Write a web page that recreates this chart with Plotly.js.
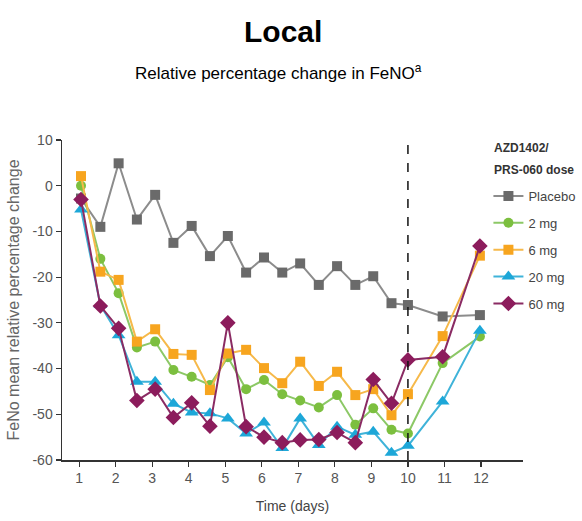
<!DOCTYPE html>
<html>
<head>
<meta charset="utf-8">
<script src="https://cdn.plot.ly/plotly-3.0.1.min.js"></script>
<style>html,body{margin:0;padding:0;background:#fff;}#chart{width:582px;height:521px;}</style>
</head>
<body>
<div id="chart"></div>
<script>
// Time points (days)
const days = [1.05,1.58,2.08,2.58,3.08,3.58,4.08,4.58,5.07,5.57,6.06,6.56,7.05,7.56,8.06,8.56,9.05,9.55,10.0,10.95,11.97];

const placebo = [-2.8,-9.0,4.9,-7.4,-2.0,-12.5,-8.8,-15.4,-11.0,-19.0,-15.7,-19.0,-17.0,-21.7,-17.6,-21.7,-19.8,-25.7,-26.1,-28.6,-28.3];
const dose2mg = [0.0,-16.0,-23.5,-35.4,-34.1,-40.3,-41.8,-43.6,-37.5,-44.5,-42.5,-45.6,-47.0,-48.5,-45.8,-52.3,-48.7,-53.4,-54.2,-38.8,-33.0];
const dose6mg = [2.1,-18.8,-20.6,-34.1,-31.4,-36.8,-37.0,-44.7,-36.7,-35.9,-39.9,-43.2,-38.5,-43.8,-40.7,-45.8,-44.5,-50.2,-45.6,-32.9,-15.3];
const dose20mg = [-5.2,-26.1,-32.7,-42.9,-42.9,-47.7,-49.6,-49.8,-50.9,-54.2,-51.8,-57.4,-50.9,-56.7,-52.7,-54.5,-53.8,-58.4,-56.9,-47.2,-31.7];
const dose60mg = [-3.0,-26.3,-31.2,-47.0,-44.5,-50.7,-47.5,-52.6,-30.0,-52.7,-55.0,-56.2,-55.6,-55.5,-54.0,-56.2,-42.4,-47.6,-38.1,-37.4,-13.2];

const seriesNames = ['Placebo','2 mg','6 mg','20 mg','60 mg'];
const legendTitleLines = ['AZD1402/','PRS-060 dose'];
const xTicks = [1,2,3,4,5,6,7,8,9,10,11,12];
const yTicks = [10,0,-10,-20,-30,-40,-50,-60];
const dosingEndDay = 10;

const FONT = 'Liberation Sans, Arial, sans-serif';

const styles = [
  {line:'#8c8c8c', marker:'#6a6a6a', symbol:'square', size:10},
  {line:'#8cc866', marker:'#7cbf3f', symbol:'circle', size:10},
  {line:'#f6b94a', marker:'#f7a51f', symbol:'square', size:10},
  {line:'#3fb3d9', marker:'#1da7d8', symbol:'triangle-up', size:12},
  {line:'#8a2b63', marker:'#8c1c5c', symbol:'diamond', size:12}
];
const values = [placebo, dose2mg, dose6mg, dose20mg, dose60mg];

const traces = values.map((v,i)=>({
  x: days, y: v, name: seriesNames[i], type:'scatter', mode:'lines+markers',
  legendgroup: 'g'+i,
  line:{color:styles[i].line, width:2},
  marker:{color:styles[i].marker, symbol:styles[i].symbol, size:styles[i].size}
}));

const layout = {
  width:582, height:521,
  margin:{l:62, r:59, t:140, b:61, autoexpand:false},
  paper_bgcolor:'#fff', plot_bgcolor:'#fff',
  font:{family:FONT, color:'#444', size:14},
  showlegend:true,
  legend:{
    x:0.925, xanchor:'left', y:0.872, yanchor:'top',
    font:{family:FONT, size:13, color:'#444'},
    tracegroupgap:7, itemwidth:30, bgcolor:'rgba(0,0,0,0)'
  },
  xaxis:{
    range:[0.53, 13.15], tickvals:xTicks, ticktext:xTicks.map(String),
    showgrid:false, zeroline:false, showline:true, linecolor:'#333', linewidth:1.5,
    ticks:'outside', ticklen:5, tickcolor:'#333', tickwidth:1.2,
    tickfont:{family:FONT, size:14, color:'#555'},
    title:{text:'Time (days)', font:{family:FONT, size:14, color:'#444'}, standoff:16}
  },
  yaxis:{
    range:[-60, 10], tickvals:yTicks, ticktext:yTicks.map(String),
    showgrid:false, zeroline:false, showline:true, linecolor:'#333', linewidth:1.5,
    ticks:'outside', ticklen:5, tickcolor:'#333', tickwidth:1.2,
    tickfont:{family:FONT, size:14, color:'#555'},
    title:{text:'FeNo mean relative percentage change', font:{family:FONT, size:16, color:'#666'}, standoff:9}
  },
  shapes:[{type:'line', xref:'x', yref:'paper', x0:dosingEndDay, x1:dosingEndDay, y0:0, y1:1,
    line:{color:'#111', width:1.5, dash:'dash'}}],
  annotations:[
    {text:'<b>Local</b>', xref:'paper', yref:'paper', x:0.48, y:1.0, yshift:109, showarrow:false,
     font:{family:FONT, size:30, color:'#000'}, xanchor:'center', yanchor:'middle'},
    {text:'Relative percentage change in FeNO<sup>a</sup>', xref:'paper', yref:'paper', x:0.47, y:1.0, yshift:68, showarrow:false,
     font:{family:FONT, size:17, color:'#000'}, xanchor:'center', yanchor:'middle'},
    {text:'<b>'+legendTitleLines[0]+'</b>', xref:'paper', yref:'paper', x:0.932, y:0.975, showarrow:false,
     font:{family:FONT, size:12, color:'#333'}, xanchor:'left', yanchor:'middle'},
    {text:'<b>'+legendTitleLines[1]+'</b>', xref:'paper', yref:'paper', x:0.932, y:0.906, showarrow:false,
     font:{family:FONT, size:12, color:'#333'}, xanchor:'left', yanchor:'middle'}
  ]
};

Plotly.newPlot('chart', traces, layout, {displayModeBar:false, staticPlot:true});
</script>
</body>
</html>
